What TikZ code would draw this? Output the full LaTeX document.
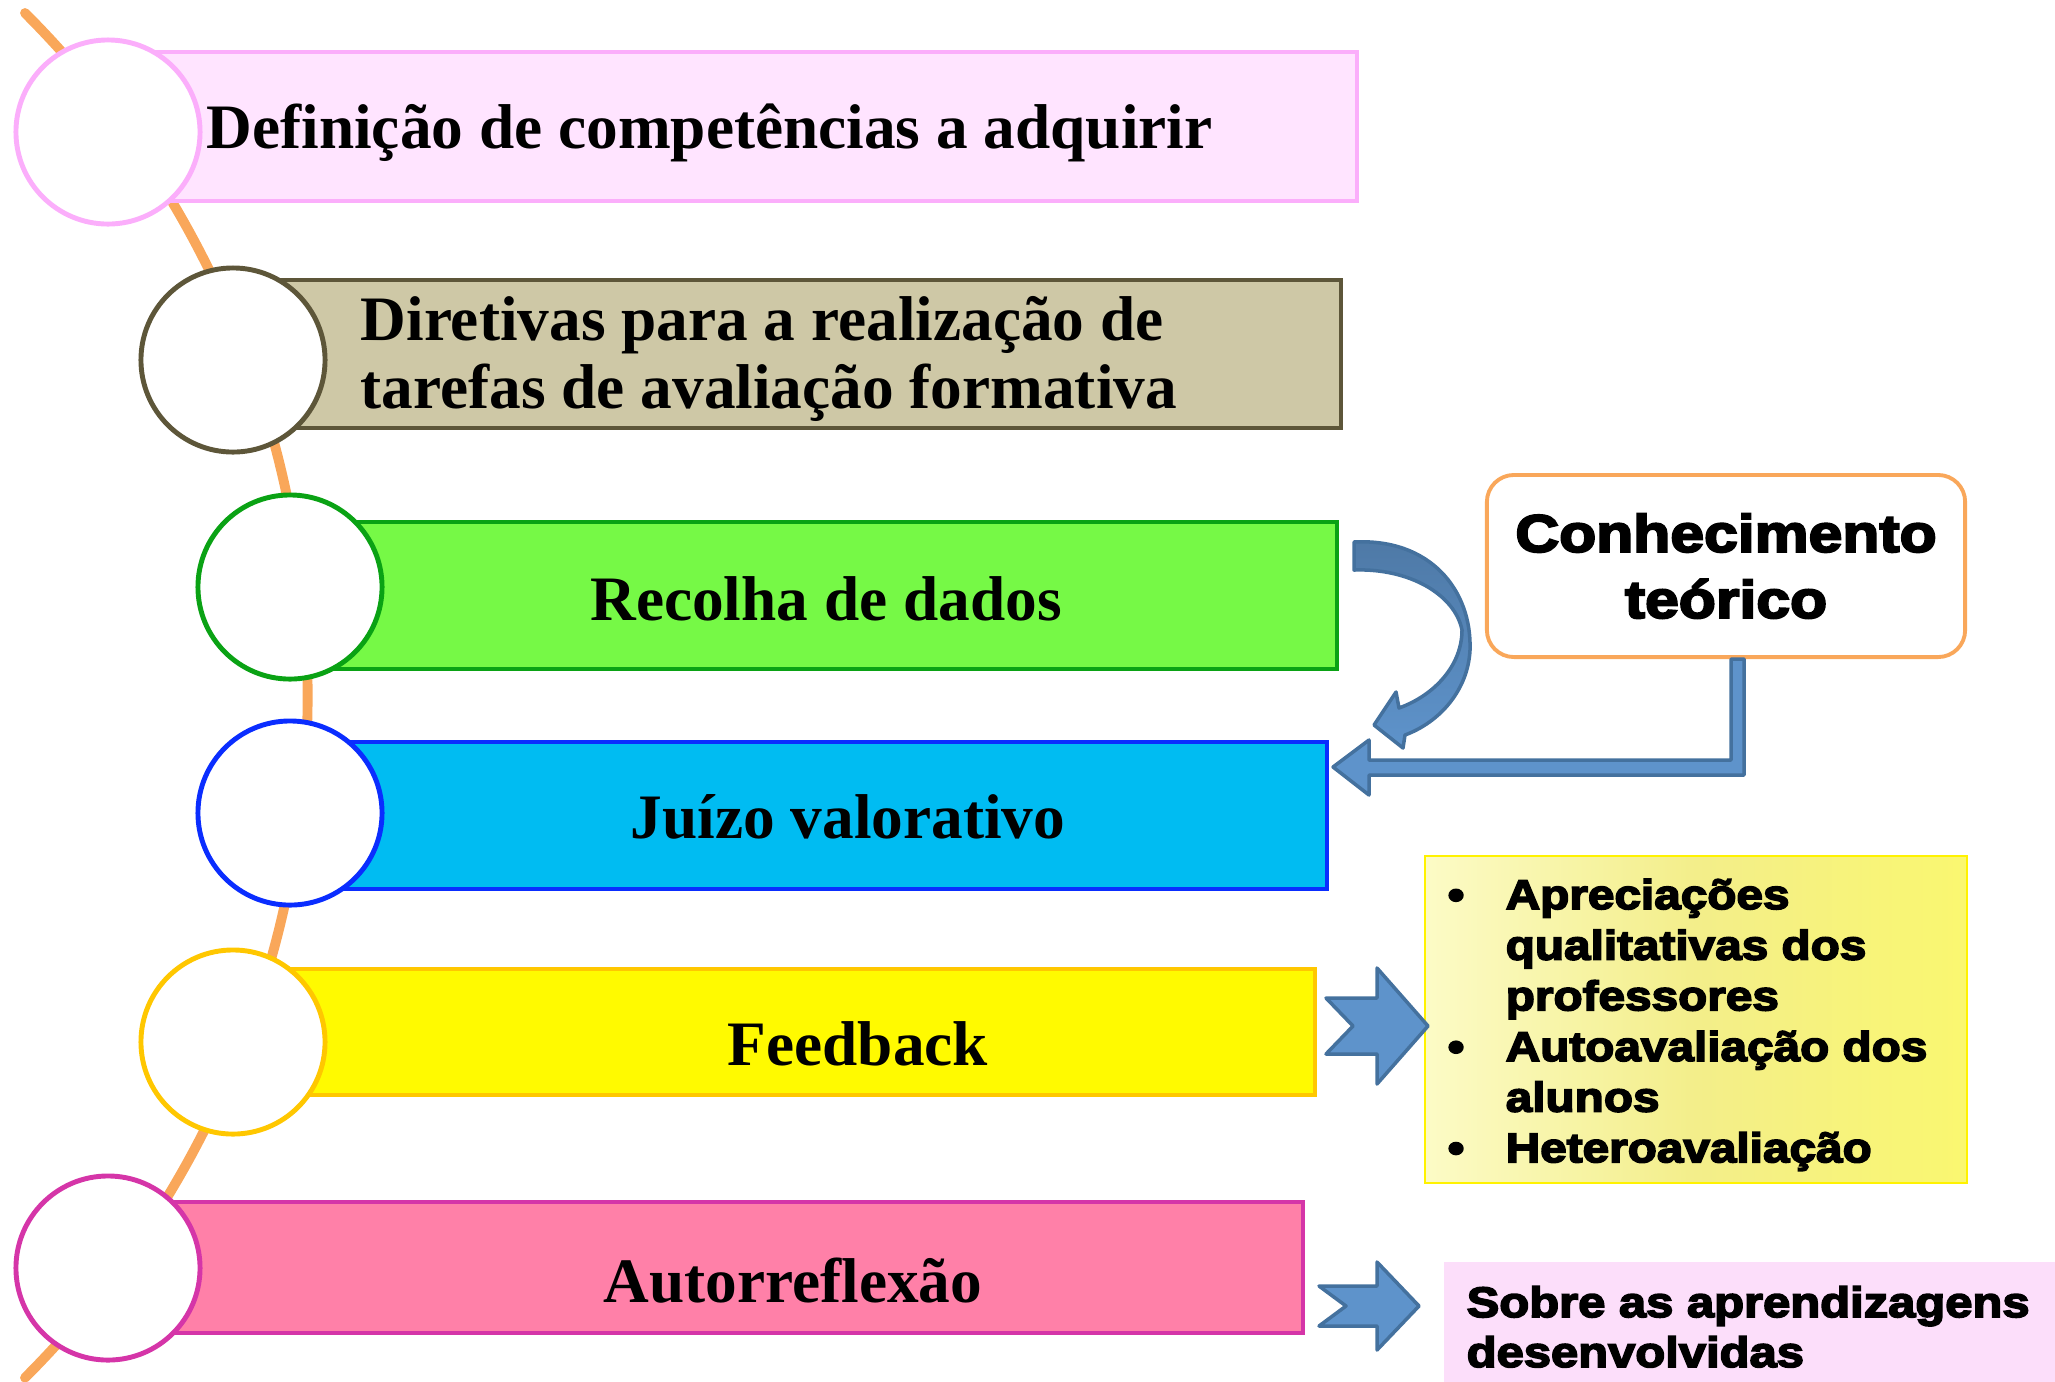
\documentclass[tikz,border=0pt]{standalone}
\usepackage{fontspec}
\setmainfont{Liberation Serif}
\newfontfamily\heavyfont[BoldFeatures={FakeStretch=1.15,FakeBold=4}]{Liberation Sans}
\usetikzlibrary{positioning,calc}

\definecolor{spinecol}{RGB}{249,167,90}
\definecolor{pinkedge}{RGB}{251,174,251}
\definecolor{pinkfill}{RGB}{255,228,255}
\definecolor{tanedge}{RGB}{93,86,57}
\definecolor{tanfill}{RGB}{206,200,166}
\definecolor{greenedge}{RGB}{10,162,20}
\definecolor{greenfill}{RGB}{118,249,70}
\definecolor{blueedge}{RGB}{10,45,255}
\definecolor{cyanfill}{RGB}{0,188,242}
\definecolor{goldedge}{RGB}{255,199,0}
\definecolor{yellowfill}{RGB}{255,250,0}
\definecolor{magentaedge}{RGB}{213,53,168}
\definecolor{rosefill}{RGB}{255,128,168}
\definecolor{arrowblue}{RGB}{94,147,203}
\definecolor{arrowdark}{RGB}{78,121,166}
\definecolor{arrowedge}{RGB}{68,113,158}
\definecolor{listleft}{RGB}{252,251,198}
\definecolor{listmid}{RGB}{243,238,138}
\definecolor{listright}{RGB}{250,247,112}
\definecolor{notefill}{RGB}{252,222,250}

\begin{document}
\begin{tikzpicture}[x=0.01cm,y=-0.01cm,
    stage/.style={draw,line width=1.1pt,inner sep=0pt},
    dot/.style={circle,draw,fill=white,line width=1.4pt,minimum size=1.84cm,inner sep=0pt},
    lbl/.style={font=\bfseries\fontsize{18}{19.6}\selectfont,inner sep=0pt},
    side/.style={font=\heavyfont\bfseries,inner sep=0pt},
    blue arrow/.style={fill=arrowblue,draw=arrowedge,line width=1pt,line join=round}]
  \useasboundingbox (0,0) rectangle (2055,1381);

  % orange spine behind the circles
  \coordinate (ctop) at (25,13);
  \draw[spinecol,line width=2.8pt,line cap=round] (ctop) arc[start angle=-45,end angle=45,radius=965];

  % stage boxes
  \node[stage,draw=pinkedge,fill=pinkfill,minimum width=12.47cm,minimum height=1.49cm] (b1) at (733.5,126.5) {};
  \node[stage,draw=tanedge,fill=tanfill,minimum width=11.06cm,minimum height=1.48cm] (b2) at (788,354) {};
  \node[stage,draw=greenedge,fill=greenfill,minimum width=10.45cm,minimum height=1.47cm] (b3) at (814.5,595.5) {};
  \node[stage,draw=blueedge,fill=cyanfill,minimum width=10.35cm,minimum height=1.47cm] (b4) at (809.5,815.5) {};
  \node[stage,draw=goldedge,fill=yellowfill,minimum width=10.80cm,minimum height=1.26cm] (b5) at (775,1032) {};
  \node[stage,draw=magentaedge,fill=rosefill,minimum width=11.93cm,minimum height=1.31cm] (b6) at (706.5,1267.5) {};

  % circles
  \node[dot,draw=pinkedge] (c1) at (108,132) {};
  \node[dot,draw=tanedge] (c2) at (233,360) {};
  \node[dot,draw=greenedge] (c3) at (290,587) {};
  \node[dot,draw=blueedge] (c4) at (290,813) {};
  \node[dot,draw=goldedge] (c5) at (233,1042) {};
  \node[dot,draw=magentaedge] (c6) at (108,1268) {};

  % stage labels
  \node[lbl,anchor=base west] (t1) at (206,148) {Definição de competências a adquirir};
  \node[lbl,anchor=base west] (t2) at (360,340) {\begin{tabular}[t]{@{}l@{}}Diretivas para a realização de\\tarefas de avaliação formativa\end{tabular}};
  \node[lbl,anchor=base] (t3) at (826,620) {Recolha de dados};
  \node[lbl,anchor=base] (t4) at (848,838) {Juízo valorativo};
  \node[lbl,anchor=base] (t5) at (858,1065) {Feedback};
  \node[lbl,anchor=base] (t6) at (793,1302) {Autorreflexão};

  % right column
  \node[side,draw=spinecol,fill=white,line width=1.1pt,rounded corners=0.27cm,
        minimum width=4.78cm,minimum height=1.82cm,align=center,
        font=\heavyfont\bfseries\fontsize{15}{18.8}\selectfont] (conh) at (1726,566) {Conhecimento\\teórico};
  \node[draw=yellow,line width=0.6pt,left color=listleft,right color=listright,middle color=listmid,
        minimum width=5.42cm,minimum height=3.27cm,inner sep=0pt] (list) at (1696,1019.5) {};
  \node[side,anchor=base west,font=\heavyfont\bfseries\fontsize{11.8}{14.4}\selectfont] (items) at (1447,909)
    {\begin{tabular}[t]{@{}p{0.58cm}@{}l@{}}
      • & Apreciações\\
        & qualitativas dos\\
        & professores\\
      • & Autoavaliação dos\\
        & alunos\\
      • & Heteroavaliação
    \end{tabular}};
  \node[fill=notefill,minimum width=6.2cm,minimum height=1.28cm,inner sep=0pt] (note) at (1754,1326) {};
  \node[side,anchor=base west,font=\heavyfont\bfseries\fontsize{12.1}{14.2}\selectfont] (notetxt) at (1466,1317)
    {\begin{tabular}[t]{@{}l@{}}Sobre as aprendizagens\\desenvolvidas\end{tabular}};

  % arrows
  \draw[blue arrow,top color=arrowdark,bottom color=arrowblue]
    (1354,542) .. controls (1430,538) and (1472,590) .. (1470,650)
    .. controls (1468,690) and (1440,722) .. (1405,735) -- (1403,748) -- (1374,725)
    -- (1396,692) -- (1399,708) .. controls (1435,695) and (1462,665) .. (1462,630)
    .. controls (1455,595) and (1410,568) .. (1354,570) -- cycle;
  \draw[blue arrow] (1731,659) -- (1744,659) -- (1744,775) -- (1369,775) -- (1369,795)
    -- (1333,767) -- (1369,740) -- (1369,760) -- (1731,760) -- cycle;
  \coordinate (ch1) at (1371,1026);
  \coordinate (ch2) at (1369,1306);
  \draw[blue arrow,shift={(ch1)}] (-45,-28) -- (6,-28) -- (6,-58) -- (57,0) -- (6,58) -- (6,28) -- (-45,28) -- (-18,0) -- cycle;
  \draw[blue arrow,shift={(ch2)}] (-50,-20) -- (8,-20) -- (8,-44) -- (50,0) -- (8,44) -- (8,20) -- (-50,20) -- (-23,0) -- cycle;
\end{tikzpicture}
\end{document}
